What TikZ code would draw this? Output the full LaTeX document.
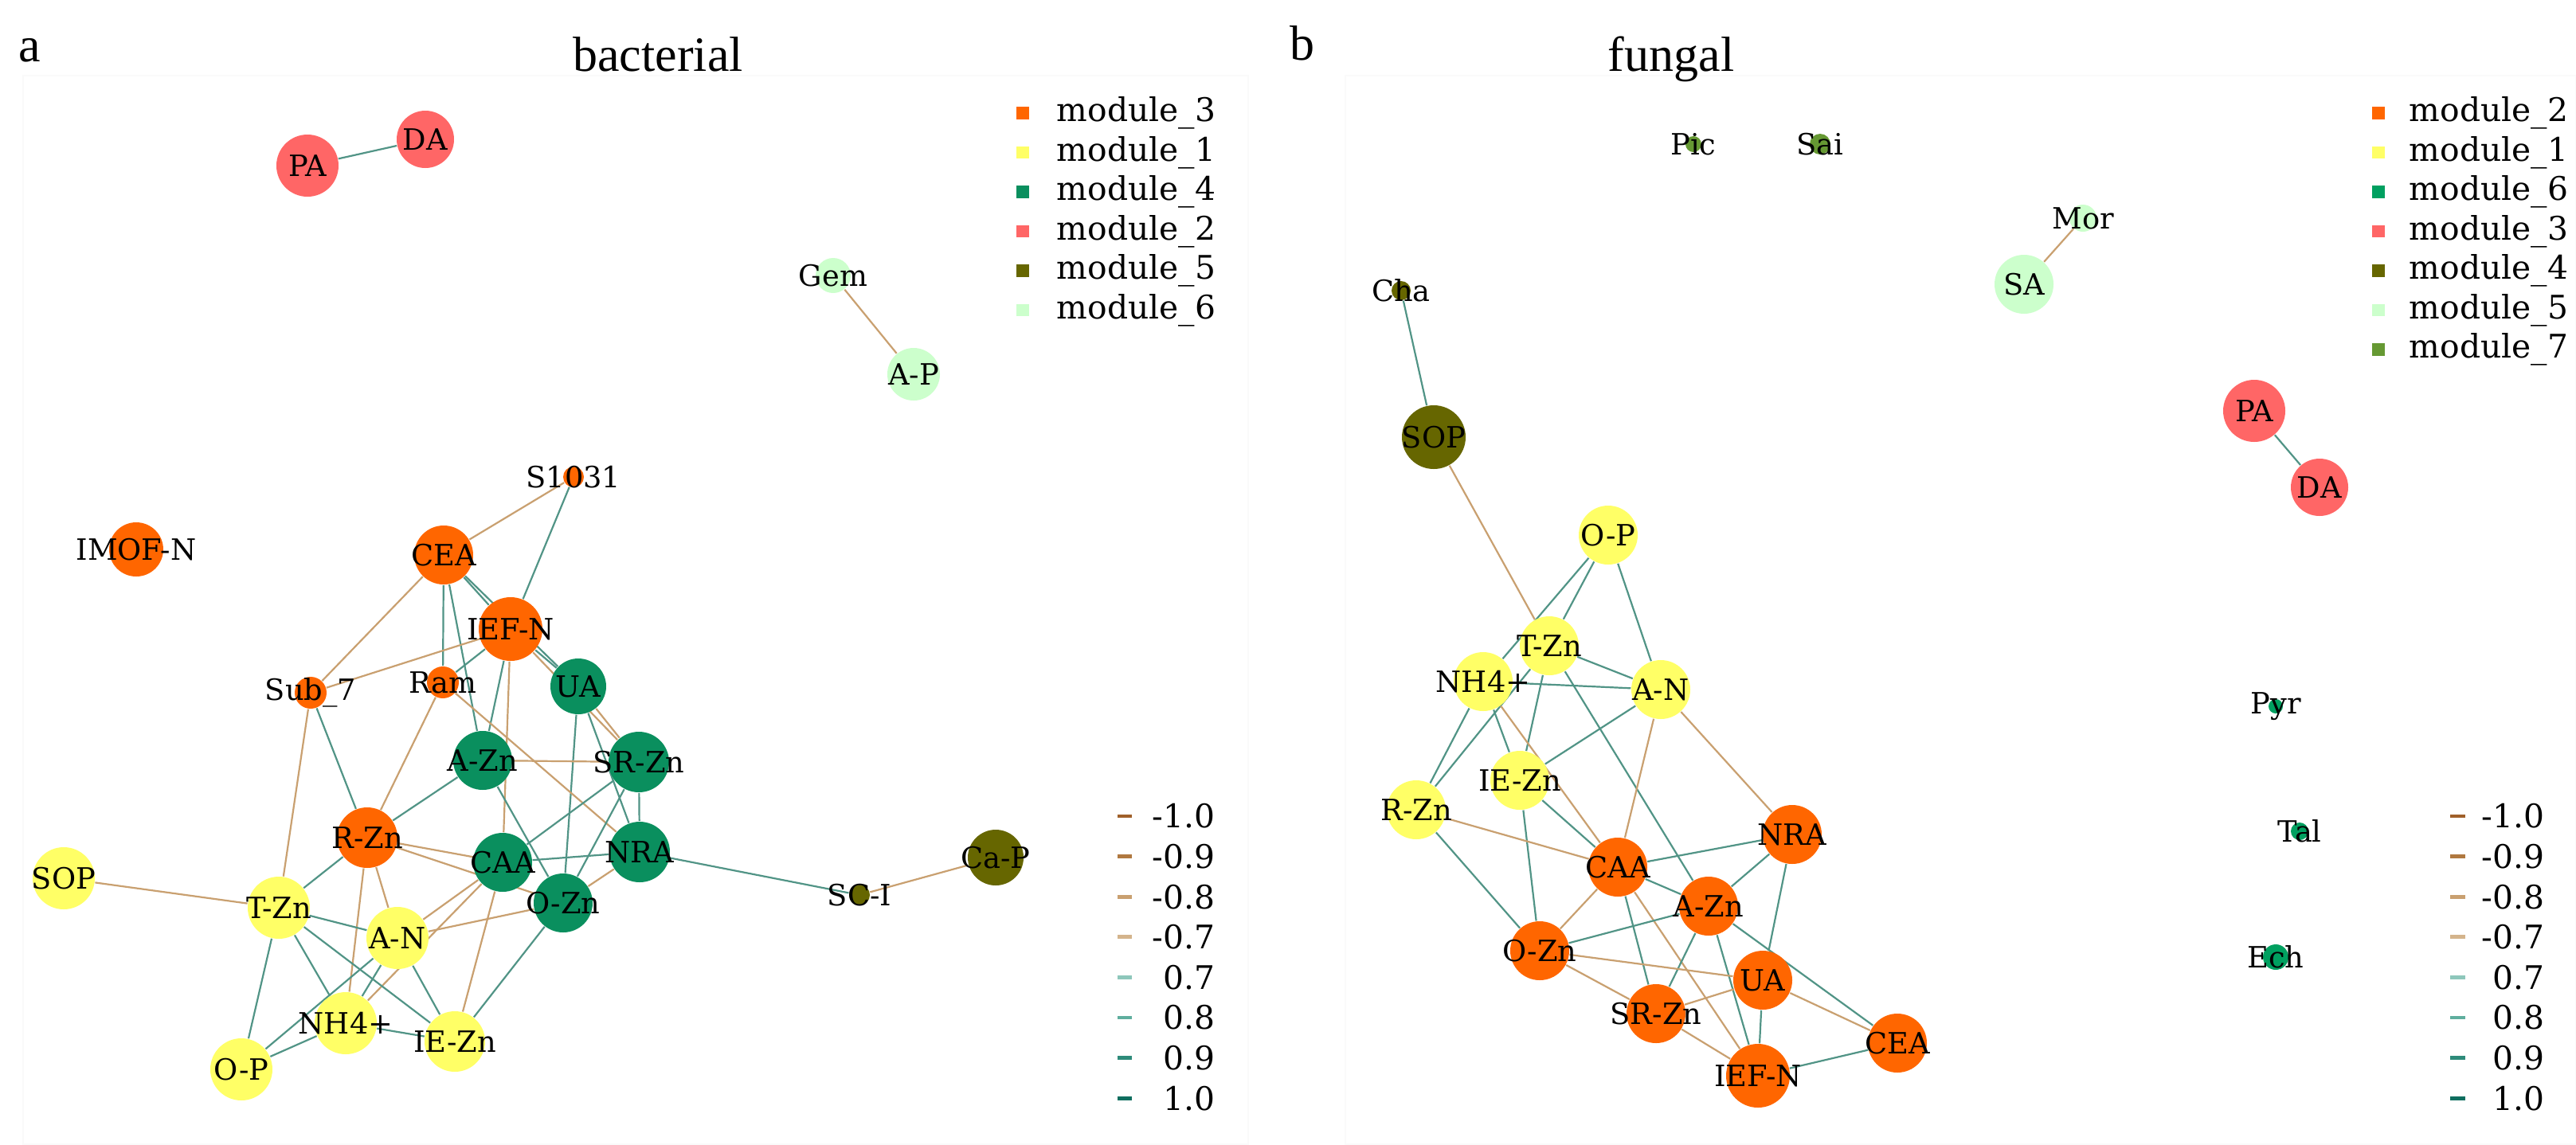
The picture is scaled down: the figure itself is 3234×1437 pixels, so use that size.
\documentclass[tikz,border=0pt]{standalone}
\usepackage{fontspec}
\setmainfont{DejaVu Serif}
\newfontfamily\titlefont{Liberation Serif}
\pgfdeclarelayer{background}
\pgfdeclarelayer{paper}
\pgfsetlayers{paper,background,main}
\definecolor{mOrange}{HTML}{FF6600}
\definecolor{mYellow}{HTML}{FFFF66}
\definecolor{mGreen}{HTML}{0A8F5E}
\definecolor{mGreenB}{HTML}{00A060}
\definecolor{mSalmon}{HTML}{FF6666}
\definecolor{mOlive}{HTML}{666600}
\definecolor{mPale}{HTML}{CCFFCC}
\definecolor{mLeaf}{HTML}{669933}
\definecolor{eN10}{HTML}{A0602A}
\definecolor{eN9}{HTML}{B07840}
\definecolor{eN8}{HTML}{C9A070}
\definecolor{eN7}{HTML}{D4B48C}
\definecolor{eP7}{HTML}{8EC7BB}
\definecolor{eP8}{HTML}{5FAE9E}
\definecolor{eP9}{HTML}{2E8B7A}
\definecolor{eP10}{HTML}{0F6E5F}
\tikzset{
  nd/.style={circle, inner sep=0pt, minimum size=#1*0.25pt, label={[font=\fontsize{9.2}{10}\selectfont, inner sep=0pt]center:\nlab}},
  pe/.style={draw=eP8!85!black, line width=0.55pt},
  ne/.style={draw=eN8, line width=0.55pt},
  leg/.style={font=\fontsize{10.2}{12}\selectfont, inner sep=0pt},
  ttl/.style={font=\titlefont\fontsize{15.5}{18}\selectfont, inner sep=0pt, anchor=base},
  sq/.style={minimum size=3.8pt, inner sep=0pt},
}
\newcommand{\nlab}{}
\newcommand{\nodeat}[5]{\renewcommand{\nlab}{#5}\node[nd=#3, fill=#4] (#1) at #2 {};}
\begin{document}
\begin{tikzpicture}[x=0.25pt, y=-0.25pt]
\useasboundingbox (0,0) rectangle (3234,1437);
\begin{pgfonlayer}{paper}
\fill[white] (0,0) rectangle (3234,1437);
\draw[black!2, line width=0.3pt] (29,95) rectangle (1567,1437);
\draw[black!2, line width=0.3pt] (1689,95) rectangle (3234,1437);
\end{pgfonlayer}
% titles
\node[ttl] (ta) at (37,77) {a};
\node[ttl] (tbac) at (826,89) {bacterial};
\node[ttl] (tb) at (1635,75) {b};
\node[ttl] (tfun) at (2098,89) {fungal};

% ---------- bacterial nodes ----------
\nodeat{bPA}{(386,208)}{78}{mSalmon}{PA}
\nodeat{bDA}{(534,175)}{72}{mSalmon}{DA}
\nodeat{bGem}{(1046,346)}{44}{mPale}{Gem}
\nodeat{bAP}{(1147,470)}{66}{mPale}{A-P}
\nodeat{bS1031}{(720,599)}{26}{mOrange}{S1031}
\nodeat{bIMOF}{(171,690)}{68}{mOrange}{IMOF-N}
\nodeat{bCEA}{(557,697)}{74}{mOrange}{CEA}
\nodeat{bIEFN}{(641,790)}{80}{mOrange}{IEF-N}
\nodeat{bSub}{(390,870)}{40}{mOrange}{Sub\_7}
\nodeat{bRam}{(556,857)}{40}{mOrange}{Ram}
\nodeat{bUA}{(726,862)}{70}{mGreen}{UA}
\nodeat{bAZn}{(606,955)}{74}{mGreen}{A-Zn}
\nodeat{bSRZn}{(802,957)}{76}{mGreen}{SR-Zn}
\nodeat{bRZn}{(461,1052)}{76}{mOrange}{R-Zn}
\nodeat{bCAA}{(631,1083)}{74}{mGreen}{CAA}
\nodeat{bNRA}{(803,1070)}{76}{mGreen}{NRA}
\nodeat{bSOP}{(80,1103)}{78}{mYellow}{SOP}
\nodeat{bTZn}{(350,1140)}{78}{mYellow}{T-Zn}
\nodeat{bOZn}{(707,1134)}{74}{mGreen}{O-Zn}
\nodeat{bSCI}{(1079,1124)}{26}{mOlive}{SC-I}
\nodeat{bCaP}{(1250,1077)}{70}{mOlive}{Ca-P}
\nodeat{bAN}{(499,1178)}{78}{mYellow}{A-N}
\nodeat{bNH}{(434,1285)}{78}{mYellow}{NH4+}
\nodeat{bIEZn}{(571,1308)}{76}{mYellow}{IE-Zn}
\nodeat{bOP}{(303,1343)}{78}{mYellow}{O-P}

% ---------- fungal nodes ----------
\nodeat{fPic}{(2126,181)}{20}{mLeaf}{Pic}
\nodeat{fSai}{(2285,181)}{26}{mLeaf}{Sai}
\nodeat{fMor}{(2615,274)}{34}{mPale}{Mor}
\nodeat{fSA}{(2541,357)}{74}{mPale}{SA}
\nodeat{fCha}{(1759,365)}{24}{mOlive}{Cha}
\nodeat{fSOP}{(1800,549)}{80}{mOlive}{SOP}
\nodeat{fPA}{(2830,516)}{78}{mSalmon}{PA}
\nodeat{fDA}{(2912,612)}{72}{mSalmon}{DA}
\nodeat{fOP}{(2019,672)}{74}{mYellow}{O-P}
\nodeat{fTZn}{(1945,811)}{74}{mYellow}{T-Zn}
\nodeat{fNH}{(1862,856)}{74}{mYellow}{NH4+}
\nodeat{fAN}{(2085,866)}{74}{mYellow}{A-N}
\nodeat{fPyr}{(2857,887)}{18}{mGreenB}{Pyr}
\nodeat{fIEZn}{(1908,980)}{74}{mYellow}{IE-Zn}
\nodeat{fRZn}{(1778,1017)}{74}{mYellow}{R-Zn}
\nodeat{fNRA}{(2250,1048)}{74}{mOrange}{NRA}
\nodeat{fTal}{(2887,1044)}{22}{mGreenB}{Tal}
\nodeat{fCAA}{(2031,1089)}{74}{mOrange}{CAA}
\nodeat{fAZn}{(2145,1138)}{74}{mOrange}{A-Zn}
\nodeat{fOZn}{(1933,1194)}{74}{mOrange}{O-Zn}
\nodeat{fUA}{(2213,1231)}{74}{mOrange}{UA}
\nodeat{fEch}{(2857,1202)}{32}{mGreenB}{Ech}
\nodeat{fSRZn}{(2079,1273)}{74}{mOrange}{SR-Zn}
\nodeat{fCEA}{(2382,1310)}{74}{mOrange}{CEA}
\nodeat{fIEFN}{(2207,1351)}{80}{mOrange}{IEF-N}

% ---------- edges ----------
\begin{pgfonlayer}{background}
% bacterial
\draw[pe] (bPA) -- (bDA);
\draw[ne] (bGem) -- (bAP);
\draw[ne] (bS1031) -- (bCEA);
\draw[pe] (bS1031) -- (bIEFN);
\draw[ne] (bCEA) -- (bSub);
\draw[pe] (bCEA) -- (bIEFN);
\draw[pe] (bCEA) -- (bUA);
\draw[pe] (bCEA) -- (bRam);
\draw[pe] (bCEA) -- (bAZn);
\draw[ne] (bIEFN) -- (bSub);
\draw[pe] (bIEFN) -- (bRam);
\draw[pe] (bIEFN) -- (bUA);
\draw[pe] (bIEFN) -- (bAZn);
\draw[ne] (bIEFN) -- (bCAA);
\draw[ne] (bIEFN) -- (bSRZn);
\draw[ne] (bUA) -- (bSRZn);
\draw[pe] (bUA) -- (bOZn);
\draw[pe] (bUA) -- (bNRA);
\draw[ne] (bSub) -- (bTZn);
\draw[pe] (bSub) -- (bRZn);
\draw[ne] (bRam) -- (bRZn);
\draw[ne] (bRam) -- (bNRA);
\draw[ne] (bAZn) -- (bSRZn);
\draw[pe] (bAZn) -- (bRZn);
\draw[pe] (bAZn) -- (bOZn);
\draw[pe] (bSRZn) -- (bCAA);
\draw[pe] (bSRZn) -- (bOZn);
\draw[pe] (bSRZn) -- (bNRA);
\draw[pe] (bNRA) -- (bCAA);
\draw[ne] (bNRA) -- (bOZn);
\draw[pe] (bNRA) -- (bSCI);
\draw[ne] (bSCI) -- (bCaP);
\draw[ne] (bRZn) -- (bCAA);
\draw[ne] (bRZn) -- (bOZn);
\draw[pe] (bRZn) -- (bTZn);
\draw[ne] (bRZn) -- (bAN);
\draw[ne] (bRZn) -- (bNH);
\draw[ne] (bCAA) -- (bAN);
\draw[ne] (bCAA) -- (bNH);
\draw[ne] (bCAA) -- (bIEZn);
\draw[ne] (bOZn) -- (bAN);
\draw[pe] (bOZn) -- (bIEZn);
\draw[ne] (bSOP) -- (bTZn);
\draw[pe] (bTZn) -- (bAN);
\draw[pe] (bTZn) -- (bOP);
\draw[pe] (bTZn) -- (bNH);
\draw[pe] (bTZn) -- (bIEZn);
\draw[pe] (bAN) -- (bNH);
\draw[pe] (bAN) -- (bOP);
\draw[pe] (bAN) -- (bIEZn);
\draw[pe] (bNH) -- (bOP);
\draw[pe] (bNH) -- (bIEZn);
% fungal
\draw[pe] (fPA) -- (fDA);
\draw[ne] (fMor) -- (fSA);
\draw[pe] (fCha) -- (fSOP);
\draw[ne] (fSOP) -- (fTZn);
\draw[pe] (fOP) -- (fTZn);
\draw[pe] (fOP) -- (fNH);
\draw[pe] (fOP) -- (fAN);
\draw[pe] (fTZn) -- (fAN);
\draw[pe] (fNH) -- (fAN);
\draw[pe] (fTZn) -- (fIEZn);
\draw[pe] (fTZn) -- (fAZn);
\draw[pe] (fTZn) -- (fRZn);
\draw[pe] (fNH) -- (fIEZn);
\draw[pe] (fNH) -- (fRZn);
\draw[ne] (fNH) -- (fCAA);
\draw[pe] (fAN) -- (fIEZn);
\draw[ne] (fAN) -- (fCAA);
\draw[ne] (fAN) -- (fNRA);
\draw[pe] (fIEZn) -- (fCAA);
\draw[pe] (fIEZn) -- (fOZn);
\draw[ne] (fRZn) -- (fCAA);
\draw[pe] (fRZn) -- (fOZn);
\draw[pe] (fNRA) -- (fCAA);
\draw[pe] (fNRA) -- (fAZn);
\draw[pe] (fNRA) -- (fUA);
\draw[pe] (fCAA) -- (fAZn);
\draw[ne] (fCAA) -- (fOZn);
\draw[pe] (fCAA) -- (fSRZn);
\draw[ne] (fCAA) -- (fIEFN);
\draw[pe] (fAZn) -- (fOZn);
\draw[pe] (fAZn) -- (fSRZn);
\draw[pe] (fAZn) -- (fIEFN);
\draw[pe] (fAZn) -- (fCEA);
\draw[ne] (fOZn) -- (fUA);
\draw[ne] (fOZn) -- (fSRZn);
\draw[ne] (fSRZn) -- (fIEFN);
\draw[ne] (fUA) -- (fSRZn);
\draw[pe] (fUA) -- (fIEFN);
\draw[ne] (fUA) -- (fCEA);
\draw[pe] (fCEA) -- (fIEFN);
\end{pgfonlayer}

% ---------- module legends ----------
\foreach \c/\t [count=\i from 0] in {mOrange/module\_3, mYellow/module\_1, mGreen/module\_4, mSalmon/module\_2, mOlive/module\_5, mPale/module\_6}{
  \node[sq, fill=\c] (bsq\i) at (1284,{142+49.5*\i}) {};
  \node[leg, anchor=west] (blt\i) at (1326,{142+49.5*\i}) {\t};
}
\foreach \c/\t [count=\i from 0] in {mOrange/module\_2, mYellow/module\_1, mGreenB/module\_6, mSalmon/module\_3, mOlive/module\_4, mPale/module\_5, mLeaf/module\_7}{
  \node[sq, fill=\c] (fsq\i) at (2986,{142+49.5*\i}) {};
  \node[leg, anchor=west] (flt\i) at (3024,{142+49.5*\i}) {\t};
}
% ---------- edge weight legends ----------
\foreach \c/\t [count=\i from 0] in {eN10/-1.0, eN9/-0.9, eN8/-0.8, eN7/-0.7, eP7/0.7, eP8/0.8, eP9/0.9, eP10/1.0}{
  \coordinate (bd\i a) at (1403,{1025+50.6*\i});
  \coordinate (bd\i b) at (1421,{1025+50.6*\i});
  \draw[\c, line width=1.2pt] (bd\i a) -- (bd\i b);
  \node[leg, anchor=east] (bwt\i) at (1526,{1025+50.6*\i}) {\t};
  \coordinate (fd\i a) at (3076,{1025+50.6*\i});
  \coordinate (fd\i b) at (3095,{1025+50.6*\i});
  \draw[\c, line width=1.2pt] (fd\i a) -- (fd\i b);
  \node[leg, anchor=east] (fwt\i) at (3195,{1025+50.6*\i}) {\t};
}
\end{tikzpicture}
\end{document}
